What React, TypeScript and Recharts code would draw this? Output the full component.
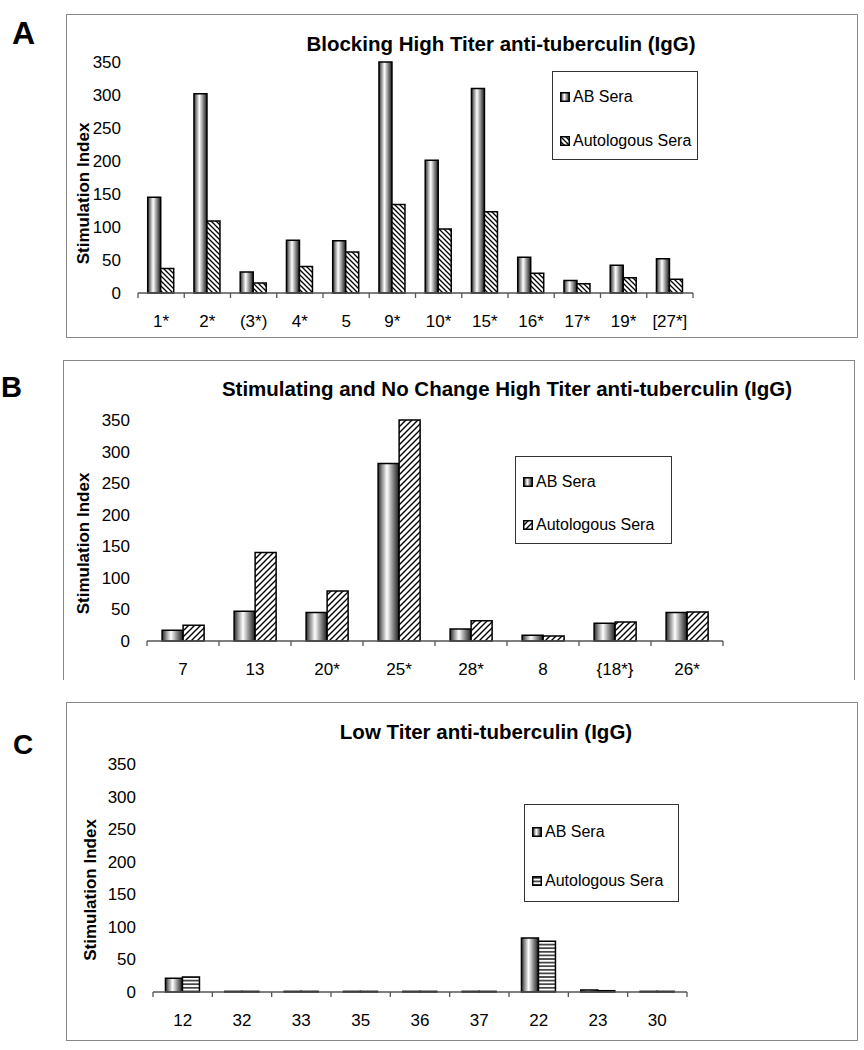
import React from 'react';
import { BarChart, Bar, XAxis, YAxis, Legend } from 'recharts';

// ---------- DATA ----------
const catsA = ['1*', '2*', '(3*)', '4*', '5', '9*', '10*', '15*', '16*', '17*', '19*', '[27*]'];
const abA = [145, 302, 32, 80, 79, 350, 201, 310, 54, 19, 42, 52];
const autoA = [37, 109, 15, 40, 62, 134, 97, 123, 30, 14, 23, 21];

const catsB = ['7', '13', '20*', '25*', '28*', '8', '{18*}', '26*'];
const abB = [17, 47, 45, 281, 19, 9, 28, 45];
const autoB = [25, 140, 79, 350, 32, 8, 30, 46];

const catsC = ['12', '32', '33', '35', '36', '37', '22', '23', '30'];
const abC = [21, 1, 1, 1, 1, 1, 83, 3, 1];
const autoC = [23, 1, 1, 1, 1, 1, 78, 2, 1];

const yTicks = [0, 50, 100, 150, 200, 250, 300, 350];
const seriesNames = ['AB Sera', 'Autologous Sera'];
const titles = [
  'Blocking High Titer anti-tuberculin (IgG)',
  'Stimulating and No Change High Titer anti-tuberculin (IgG)',
  'Low Titer anti-tuberculin (IgG)',
];
const panelLetters = ['A', 'B', 'C'];
const yAxisTitle = 'Stimulation Index';

const FONT = '"Liberation Sans", Arial, Helvetica, sans-serif';

type Hatch = 'back' | 'fwd' | 'horiz';

type PanelCfg = {
  id: string;
  top: number;
  height: number;
  cats: string[];
  ab: number[];
  auto: number[];
  plotLeft: number;
  plotRight: number;
  plotTop: number;
  plotBottom: number;
  yLabelX: number;
  yLabelShift: number;
  hatch: Hatch;
  legend: { left: number; top: number; width: number; height: number; row1: number; row2: number };
};

const Y_AXIS_W = 60;
const X_AXIS_H = 30;

const Defs = ({ id, hatch }: { id: string; hatch: Hatch }) => (
  <defs>
    <linearGradient id={`cyl-${id}`} x1="0" y1="0" x2="1" y2="0">
      <stop offset="0" stopColor="#2a2a2a" />
      <stop offset="0.18" stopColor="#8a8a8a" />
      <stop offset="0.42" stopColor="#ffffff" />
      <stop offset="0.7" stopColor="#8c8c8c" />
      <stop offset="1" stopColor="#1a1a1a" />
    </linearGradient>
    {hatch === 'back' && (
      <pattern id={`hatch-${id}`} patternUnits="userSpaceOnUse" width="5" height="5">
        <rect width="5" height="5" fill="#fff" />
        <path d="M-1,-1 L6,6 M-1,4 L1,6 M4,-1 L6,1" stroke="#000" strokeWidth="1.3" />
      </pattern>
    )}
    {hatch === 'fwd' && (
      <pattern id={`hatch-${id}`} patternUnits="userSpaceOnUse" width="6" height="6">
        <rect width="6" height="6" fill="#fff" />
        <path d="M-1,7 L7,-1 M-1,1 L1,-1 M5,7 L7,5" stroke="#000" strokeWidth="1.4" />
      </pattern>
    )}
    {hatch === 'horiz' && (
      <pattern id={`hatch-${id}`} patternUnits="userSpaceOnUse" width="4" height="3.6">
        <rect width="4" height="3.6" fill="#fff" />
        <path d="M-1,1.8 L5,1.8" stroke="#000" strokeWidth="1.3" />
      </pattern>
    )}
  </defs>
);

const Swatch = ({ id, hatch, kind }: { id: string; hatch: Hatch; kind: 'ab' | 'auto' }) => (
  <svg width={10} height={10} style={{ display: 'block' }}>
    <Defs id={`lg-${id}`} hatch={hatch} />
    <rect
      x={0.75}
      y={0.75}
      width={8.5}
      height={8.5}
      fill={kind === 'ab' ? `url(#cyl-lg-${id})` : `url(#hatch-lg-${id})`}
      stroke="#000"
      strokeWidth={1.5}
    />
  </svg>
);

const makeTick = (halfFallback: number) => (props: any) => {
  const { x, y, payload, index, visibleTicksCount } = props;
  const half =
    payload && typeof payload.offset === 'number' && payload.offset > 0 ? payload.offset : halfFallback;
  return (
    <g>
      <line x1={x - half} x2={x - half} y1={y} y2={y + 5} stroke="#555" strokeWidth={1.3} />
      {index === visibleTicksCount - 1 && (
        <line x1={x + half} x2={x + half} y1={y} y2={y + 5} stroke="#555" strokeWidth={1.3} />
      )}
      <text
        x={x}
        y={y + 28}
        textAnchor="middle"
        dominantBaseline="central"
        fontSize={17}
        fontFamily={FONT}
        fill="#000"
      >
        {payload.value}
      </text>
    </g>
  );
};

const Panel = ({ cfg }: { cfg: PanelCfg }) => {
  const data = cfg.cats.map((c, i) => ({ name: c, ab: cfg.ab[i], auto: cfg.auto[i] }));
  const margin = {
    top: cfg.plotTop,
    left: cfg.plotLeft - Y_AXIS_W,
    right: 864 - cfg.plotRight,
    bottom: cfg.height - cfg.plotBottom - X_AXIS_H,
  };
  const halfFallback = (cfg.plotRight - cfg.plotLeft) / cfg.cats.length / 2;
  const labelY = (cfg.plotTop + cfg.plotBottom) / 2 + cfg.yLabelShift;
  const lg = cfg.legend;
  return (
    <div style={{ position: 'absolute', left: 0, top: cfg.top, width: 864, height: cfg.height }}>
      <BarChart
        width={864}
        height={cfg.height}
        data={data}
        margin={margin}
        barCategoryGap="21%"
        barGap={0}
      >
        <Defs id={cfg.id} hatch={cfg.hatch} />
        <XAxis
          dataKey="name"
          interval={0}
          height={X_AXIS_H}
          tickSize={0}
          tickMargin={0}
          tickLine={false}
          axisLine={{ stroke: '#555', strokeWidth: 1.5 }}
          tick={makeTick(halfFallback)}
        />
        <YAxis
          domain={[0, 350]}
          ticks={yTicks}
          interval={0}
          width={Y_AXIS_W}
          axisLine={false}
          tickLine={false}
          tickSize={0}
          tickMargin={17}
          tick={{ fill: '#000', fontSize: 17, fontFamily: FONT }}
          label={() => (
            <text
              x={cfg.yLabelX}
              y={labelY}
              transform={`rotate(-90 ${cfg.yLabelX} ${labelY})`}
              textAnchor="middle"
              dominantBaseline="central"
              fontWeight="bold"
              fontSize={17}
              fontFamily={FONT}
              fill="#000"
            >
              {yAxisTitle}
            </text>
          )}
        />
        <Legend
          layout="vertical"
          align="center"
          verticalAlign="middle"
          wrapperStyle={{ left: lg.left, top: lg.top, width: lg.width, height: lg.height }}
          content={() => (
            <div
              style={{
                boxSizing: 'border-box',
                position: 'relative',
                width: lg.width,
                height: lg.height,
                border: '1.3px solid #333',
                background: '#fff',
                fontFamily: FONT,
                fontSize: 16,
                color: '#000',
              }}
            >
              {[
                { kind: 'ab' as const, y: lg.row1, name: seriesNames[0] },
                { kind: 'auto' as const, y: lg.row2, name: seriesNames[1] },
              ].map((r) => (
                <div
                  key={r.kind}
                  style={{
                    position: 'absolute',
                    left: 7,
                    top: r.y - 10,
                    height: 20,
                    display: 'flex',
                    alignItems: 'center',
                    whiteSpace: 'nowrap',
                  }}
                >
                  <Swatch id={cfg.id} hatch={cfg.hatch} kind={r.kind} />
                  <span style={{ marginLeft: 3 }}>{r.name}</span>
                </div>
              ))}
            </div>
          )}
        />
        <Bar
          dataKey="ab"
          name={seriesNames[0]}
          fill={`url(#cyl-${cfg.id})`}
          stroke="#000"
          strokeWidth={1.5}
          isAnimationActive={false}
        />
        <Bar
          dataKey="auto"
          name={seriesNames[1]}
          fill={`url(#hatch-${cfg.id})`}
          stroke="#000"
          strokeWidth={1.5}
          isAnimationActive={false}
        />
      </BarChart>
    </div>
  );
};

const panels: PanelCfg[] = [
  {
    id: 'a',
    top: 0,
    height: 340,
    cats: catsA,
    ab: abA,
    auto: autoA,
    plotLeft: 138,
    plotRight: 693,
    plotTop: 62,
    plotBottom: 293,
    yLabelX: 83,
    yLabelShift: 16,
    hatch: 'back',
    legend: { left: 552, top: 71, width: 146, height: 89, row1: 25, row2: 69 },
  },
  {
    id: 'b',
    top: 340,
    height: 340,
    cats: catsB,
    ab: abB,
    auto: autoB,
    plotLeft: 147,
    plotRight: 723,
    plotTop: 80,
    plotBottom: 301,
    yLabelX: 83,
    yLabelShift: 13,
    hatch: 'fwd',
    legend: { left: 515, top: 116, width: 157, height: 88, row1: 25, row2: 68 },
  },
  {
    id: 'c',
    top: 680,
    height: 370,
    cats: catsC,
    ab: abC,
    auto: autoC,
    plotLeft: 153,
    plotRight: 687,
    plotTop: 84,
    plotBottom: 312,
    yLabelX: 90,
    yLabelShift: 12,
    hatch: 'horiz',
    legend: { left: 524, top: 124, width: 155, height: 98, row1: 27, row2: 76 },
  },
];

const frames = [
  { left: 66, top: 14, width: 792, height: 324, bottom: true },
  { left: 63, top: 360, width: 792, height: 320, bottom: false },
  { left: 66, top: 702, width: 792, height: 339, bottom: true },
];

const titlePos = [
  { x: 501, y: 43 },
  { x: 507, y: 388 },
  { x: 486, y: 731 },
];
const letterPos = [
  { x: 12, y: 44, size: 32 },
  { x: 1, y: 397, size: 29 },
  { x: 13, y: 754, size: 28 },
];

export default function App() {
  return (
    <div
      style={{
        position: 'absolute',
        left: 0,
        top: 0,
        width: 864,
        height: 1050,
        background: '#fff',
        overflow: 'hidden',
        fontFamily: FONT,
      }}
    >
      {frames.map((f, i) => (
        <div
          key={i}
          style={{
            position: 'absolute',
            left: f.left,
            top: f.top,
            width: f.width,
            height: f.height,
            boxSizing: 'border-box',
            borderTop: '1.5px solid #888',
            borderLeft: '1.5px solid #888',
            borderRight: '1.5px solid #888',
            borderBottom: f.bottom ? '1.5px solid #888' : 'none',
          }}
        />
      ))}
      {panels.map((p) => (
        <Panel key={p.id} cfg={p} />
      ))}
      <svg
        width={864}
        height={1050}
        style={{ position: 'absolute', left: 0, top: 0, pointerEvents: 'none' }}
      >
        {titles.map((t, i) => (
          <text
            key={t}
            x={titlePos[i].x}
            y={titlePos[i].y}
            textAnchor="middle"
            dominantBaseline="central"
            fontWeight="bold"
            fontSize={20.5}
            fontFamily={FONT}
            fill="#000"
          >
            {t}
          </text>
        ))}
        {panelLetters.map((l, i) => (
          <text
            key={l}
            x={letterPos[i].x}
            y={letterPos[i].y}
            fontWeight="bold"
            fontSize={letterPos[i].size}
            fontFamily={FONT}
            fill="#000"
          >
            {l}
          </text>
        ))}
      </svg>
    </div>
  );
}
